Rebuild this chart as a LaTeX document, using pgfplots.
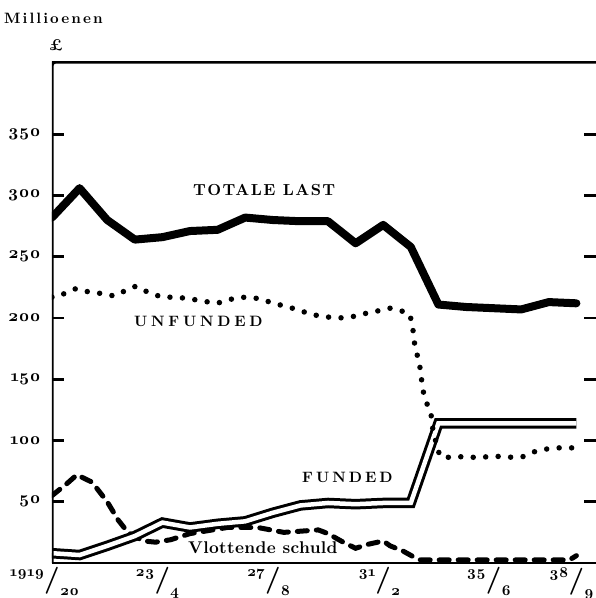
\documentclass[border=0pt]{standalone}
\usepackage{fontspec}
\setmainfont{lmroman10}[Extension=.otf, UprightFont=*-regular, BoldFont=*-bold, ItalicFont=*-italic, BoldItalicFont=*-bolditalic, Numbers=OldStyle]
\usepackage{pgfplots}
\pgfplotsset{compat=1.18}

\newcommand{\yr}[2]{\llap{\raisebox{11pt}{\fontsize{15}{15}\selectfont\bfseries #1}}{\fontsize{27}{27}\selectfont\bfseries /}\rlap{\raisebox{-8pt}{\fontsize{15}{15}\selectfont\bfseries #2}}}

\pgfplotstableread{
x y
1919 282
1920 306
1921 280
1922 264
1923 266
1924 271
1925 272
1926 282
1927 280
1928 279
1929 279
1930 261
1931 276
1932 258
1933 211
1934 209
1935 208
1936 207
1937 213
1938 212
}\totale

\pgfplotstableread{
x y
1919 8
1920 6.5
1921 14
1922 22
1923 33
1924 29
1925 32
1926 34
1927 41
1928 47
1929 49
1930 48
1931 49
1932 49
1933 114
1934 114
1935 114
1936 114
1937 114
1938 114
}\funded

\pgfplotstableread{
x y
1919.00 217
1919.18 217
1919.54 221
1919.87 224
1920.38 221
1920.81 220
1921.25 218
1921.72 223
1922.04 226
1922.48 221
1922.99 217
1923.42 217
1923.93 216
1924.40 214
1924.98 212
1925.41 215
1925.88 217
1926.46 216
1926.90 213
1927.37 210
1927.88 207
1928.38 203
1928.89 201
1929.40 200
1929.87 201
1930.41 204
1930.85 206
1931.25 208
1931.64 206
1931.97 203
1932.08 190
1932.12 181
1932.33 160
1932.44 141
1932.55 132
1932.73 122
1932.80 109
1932.95 95
1933.06 87
1933.49 86
1933.93 87
1934.40 86
1934.91 87
1935.34 87
1935.78 86
1936.10 87
1936.50 91
1936.90 93
1937.30 94
1937.70 94
1938.09 94
}\unfunded

\pgfplotstableread{
x y
1919.00 55
1919.55 65
1919.90 72
1920.45 66
1921.00 50
1921.40 35
1921.75 25
1922.30 18
1922.75 17
1923.30 19
1924.00 24
1925.35 29
1926.45 29
1927.40 25
1928.65 27
1929.00 24
1929.55 17
1930.00 12
1930.40 15
1931.00 18
1931.25 14
1931.70 10
1932.10 5
1932.35 2.5
1937.75 2.5
1938.00 6
}\vlottende

\begin{document}
\begin{tikzpicture}
\useasboundingbox (0,0) rectangle (596pt,598pt);
\begin{axis}[
  at={(52pt,35pt)}, anchor=south west,
  width=544pt, height=501pt, scale only axis,
  xmin=1919, xmax=1938.71,
  ymin=0, ymax=409,
  axis line style={draw=none},
  tick align=inside,
  major tick length=12pt,
  minor tick length=5pt,
  ytick={50,100,...,350},
  yticklabels={50,100,150,200,250,300,350},
  ytick pos=both,
  yticklabel pos=left,
  ytick style={line width=2.6pt, black},
  yticklabel style={anchor=east, inner sep=0pt, xshift=-11pt, font=\bfseries\fontsize{17}{17}\selectfont},
  xtick={1919,1923,1927,1931,1935,1938},
  xticklabels={{\yr{1919}{20}},{\yr{23}{4}},{\yr{27}{8}},{\yr{31}{2}},{\yr{35}{6}},{\yr{38}{9}}},
  xtick style={draw=none},
  minor xtick={1920,1921,...,1938},
  minor tick style={line width=2pt, black},
  xtick pos=bottom,
  xticklabel style={anchor=north, inner sep=0pt, yshift=-4pt},
]
\addplot[black, line width=5pt, line cap=round, dash pattern=on 10pt off 9pt] table {\vlottende};
\addplot[black, line width=10.5pt, line join=miter] table {\funded};
\addplot[white, line width=4.5pt, line join=miter] table {\funded};
\addplot[black, line width=5.5pt, line cap=round, dash pattern=on 0pt off 12.5pt] table {\unfunded};
\addplot[black, line width=8pt, line join=round, line cap=round] table {\totale};
\draw[line width=3.5pt, line join=round, rounded corners=3pt] (rel axis cs:0,0) -- (rel axis cs:0,1) -- (rel axis cs:1.02,1);
\draw[line width=3pt] (rel axis cs:0,0) -- (rel axis cs:1.02,0);
\end{axis}
\node[anchor=west, inner sep=0pt, font=\bfseries\fontsize{15}{15}\selectfont\addfontfeatures{LetterSpace=14}] at (4pt,580pt) {Millioenen};
\node[inner sep=0pt, font=\bfseries\fontsize{16}{16}\selectfont] at (56pt,553pt) {£};
\node[anchor=base west, inner sep=0pt, font=\bfseries\fontsize{16}{16}\selectfont\addfontfeatures{LetterSpace=9}] at (193pt,402pt) {TOTALE LAST};
\node[anchor=base west, inner sep=0pt, font=\bfseries\fontsize{15}{15}\selectfont\addfontfeatures{LetterSpace=25}] at (134pt,271pt) {UNFUNDED};
\node[anchor=base west, inner sep=0pt, font=\bfseries\fontsize{15}{15}\selectfont\addfontfeatures{LetterSpace=20}] at (302pt,115pt) {FUNDED};
\node[anchor=base west, inner sep=0pt, font=\bfseries\fontsize{17}{17}\selectfont\addfontfeatures{LetterSpace=2}] at (188pt,45pt) {Vlottende schuld};
\end{tikzpicture}
\end{document}
